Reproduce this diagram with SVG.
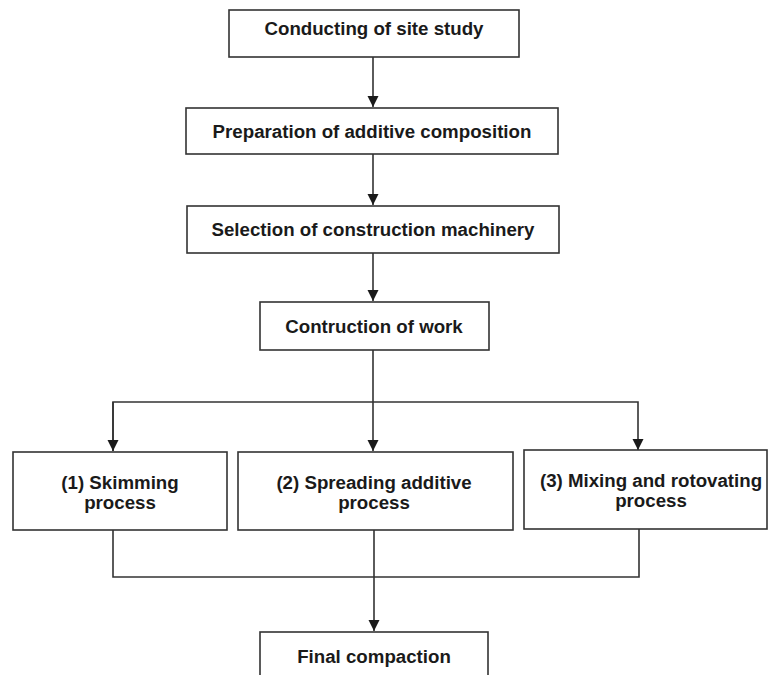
<svg xmlns="http://www.w3.org/2000/svg" width="768" height="675" viewBox="0 0 768 675">
<defs>
<style>
.box{fill:#fff;stroke:#333;stroke-width:1.6}
.ln{fill:none;stroke:#333;stroke-width:1.6}
.t{font-family:"Liberation Sans",Arial,sans-serif;font-weight:bold;font-size:18.7px;fill:#1a1a1a;text-anchor:middle}
</style>
<marker id="ad" markerUnits="userSpaceOnUse" markerWidth="12" markerHeight="12" viewBox="0 0 12 12" refX="6" refY="11" orient="0">
<path d="M0.5,0 L11.5,0 L6,11 Z" fill="#1a1a1a"/>
</marker>
</defs>
<rect width="768" height="675" fill="#fff"/>
<g id="connectors">
<line class="ln" x1="373" y1="57" x2="373" y2="107" marker-end="url(#ad)"/>
<line class="ln" x1="373" y1="154" x2="373" y2="205" marker-end="url(#ad)"/>
<line class="ln" x1="373" y1="253" x2="373" y2="301" marker-end="url(#ad)"/>
<line class="ln" x1="373" y1="350" x2="373" y2="451" marker-end="url(#ad)"/>
<polyline class="ln" points="113,451 113,402 638,402 638,450" marker-end="url(#ad)"/>
<line class="ln" x1="113" y1="402" x2="113" y2="451" marker-end="url(#ad)"/>
<polyline class="ln" points="113,530 113,577 639,577 639,529"/>
<line class="ln" x1="374" y1="530" x2="374" y2="631" marker-end="url(#ad)"/>
</g>
<g id="n1"><rect class="box" x="229" y="10" width="290" height="47"/><text class="t" x="374" y="35">Conducting of site study</text></g>
<g id="n2"><rect class="box" x="186" y="108" width="372" height="46"/><text class="t" x="372" y="138">Preparation of additive composition</text></g>
<g id="n3"><rect class="box" x="187" y="206" width="372" height="47"/><text class="t" x="373" y="236">Selection of construction machinery</text></g>
<g id="n4"><rect class="box" x="260" y="302" width="229" height="48"/><text class="t" x="374" y="333">Contruction of work</text></g>
<g id="n5"><rect class="box" x="13" y="452" width="214" height="78"/><text class="t" x="120" y="489">(1) Skimming</text><text class="t" x="120" y="509">process</text></g>
<g id="n6"><rect class="box" x="238" y="452" width="275" height="78"/><text class="t" x="374" y="489">(2) Spreading additive</text><text class="t" x="374" y="509">process</text></g>
<g id="n7"><rect class="box" x="524" y="450" width="243" height="79"/><text class="t" x="651" y="487">(3) Mixing and rotovating</text><text class="t" x="651" y="507">process</text></g>
<g id="n8"><rect class="box" x="260" y="632" width="228" height="60"/><text class="t" x="374" y="663">Final compaction</text></g>
</svg>
